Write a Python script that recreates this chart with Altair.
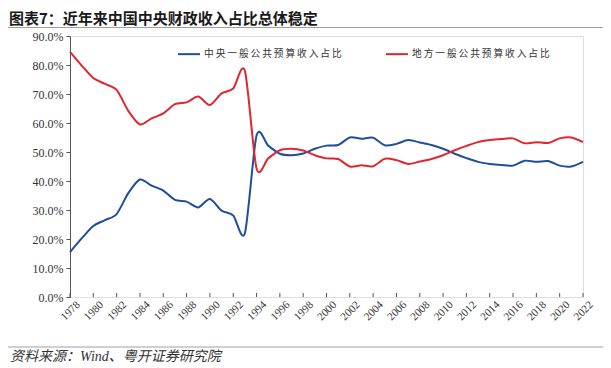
import altair as alt
import pandas as pd

years = list(range(1978, 2023))
central = [15.5, 20.2, 24.5, 26.5, 28.6, 35.8, 40.5, 38.4, 36.7, 33.5, 32.9, 30.9, 33.8, 29.8, 28.1, 22.0,
           55.7, 52.2, 49.4, 48.9, 49.5, 51.1, 52.2, 52.4, 55.0, 54.6, 54.9, 52.3, 52.8, 54.1, 53.3, 52.4,
           51.1, 49.4, 47.9, 46.6, 45.9, 45.5, 45.3, 47.0, 46.6, 46.9, 45.3, 45.0, 46.6]
local = [84.5, 79.8, 75.5, 73.5, 71.4, 64.2, 59.5, 61.6, 63.3, 66.5, 67.1, 69.1, 66.2, 70.2, 71.9, 78.0,
         44.3, 47.8, 50.6, 51.1, 50.5, 48.9, 47.8, 47.6, 45.0, 45.4, 45.1, 47.7, 47.2, 45.9, 46.7, 47.6,
         48.9, 50.6, 52.1, 53.4, 54.1, 54.5, 54.7, 53.0, 53.4, 53.1, 54.7, 55.0, 53.4]
series = ["中央一般公共预算收入占比", "地方一般公共预算收入占比"]
colors = ["#1f4e9b", "#e0262e"]
y_ticks = [i / 10 for i in range(0, 10)]
x_labels = [y for y in years if y % 2 == 0]
title_text = "图表7：近年来中国中央财政收入占比总体稳定"
source_text = "资料来源：Wind、粤开证券研究院"

rows = []
for i, yr in enumerate(years):
    rows.append({"year": yr, "series": series[0], "value": central[i] / 100})
    rows.append({"year": yr, "series": series[1], "value": local[i] / 100})
df = pd.DataFrame(rows)
years_df = pd.DataFrame({"year": x_labels, "label": [str(y) for y in x_labels]})

W, H = 513, 261
AX = "#555555"
SERIF = "Liberation Serif"
CJK = "Noto Sans CJK SC"

x_scale = alt.Scale(domain=[1978, 2022], nice=False, zero=False)
y_scale = alt.Scale(domain=[0, 0.9], nice=False)

lines = alt.Chart(df).mark_line(interpolate="cardinal", tension=0.2, strokeWidth=2).encode(
    x=alt.X("year:Q", scale=x_scale,
            axis=alt.Axis(values=x_labels, title=None, labels=False, ticks=False, grid=False,
                          domainColor=AX)),
    y=alt.Y("value:Q", scale=y_scale,
            axis=alt.Axis(values=y_ticks, format=".1%", title=None, grid=False,
                          labelFont=SERIF, labelFontSize=12, labelColor="#333333",
                          tickColor=AX, domainColor=AX, tickSize=4, labelPadding=3)),
    color=alt.Color("series:N", sort=series,
                    scale=alt.Scale(domain=series, range=colors),
                    legend=alt.Legend(title=None, orient="none", direction="horizontal",
                                      legendX=107, legendY=6, symbolType="stroke",
                                      symbolSize=484, symbolStrokeWidth=2,
                                      labelFont=CJK, labelFontSize=9.7, labelColor="#333333",
                                      labelOffset=3, columnPadding=40,
                                      labelExpr="join(split(datum.label, ''), '\u2009')")),
)

xticks = alt.Chart(years_df).mark_rule(color=AX, strokeWidth=1).encode(
    x=alt.X("year:Q", scale=x_scale, axis=None),
    y=alt.value(H - 4), y2=alt.value(H),
)

xlabels = alt.Chart(years_df).mark_text(
    angle=315, align="right", baseline="top", font=SERIF, fontSize=11, color="#333333",
    dx=3, dy=3
).encode(
    x=alt.X("year:Q", scale=x_scale, axis=None),
    y=alt.value(H + 2),
    text="label:N",
)

title = alt.Chart(pd.DataFrame({"t": [title_text]})).mark_text(
    align="left", baseline="middle", font=CJK, fontSize=15, fontWeight="bold", color="#1a1a1a"
).encode(x=alt.value(-61), y=alt.value(-17.5), text="t:N")

top_rule = alt.Chart(pd.DataFrame({"a": [0]})).mark_rule(color="#a0a0a0", strokeWidth=1).encode(
    x=alt.value(-62), x2=alt.value(533), y=alt.value(-8.5))

bottom_rule = alt.Chart(pd.DataFrame({"a": [0]})).mark_rule(color="#a0a0a0", strokeWidth=1).encode(
    x=alt.value(-62), x2=alt.value(533), y=alt.value(311))

source = alt.Chart(pd.DataFrame({"t": [source_text]})).mark_text(
    align="left", baseline="middle", font=SERIF + ", " + CJK, fontSize=14, fontStyle="italic",
    color="#333333"
).encode(x=alt.value(-60), y=alt.value(321), text="t:N")

chart = alt.layer(lines, xticks, xlabels, title, top_rule, bottom_rule, source).properties(
    width=W, height=H,
    autosize=alt.AutoSizeParams(type="none"),
    padding={"left": 62, "top": 28, "right": 20, "bottom": 70},
).configure_view(stroke=None).configure(background="white")

chart.save("out.html", embed_options={"renderer": "svg", "actions": False})
